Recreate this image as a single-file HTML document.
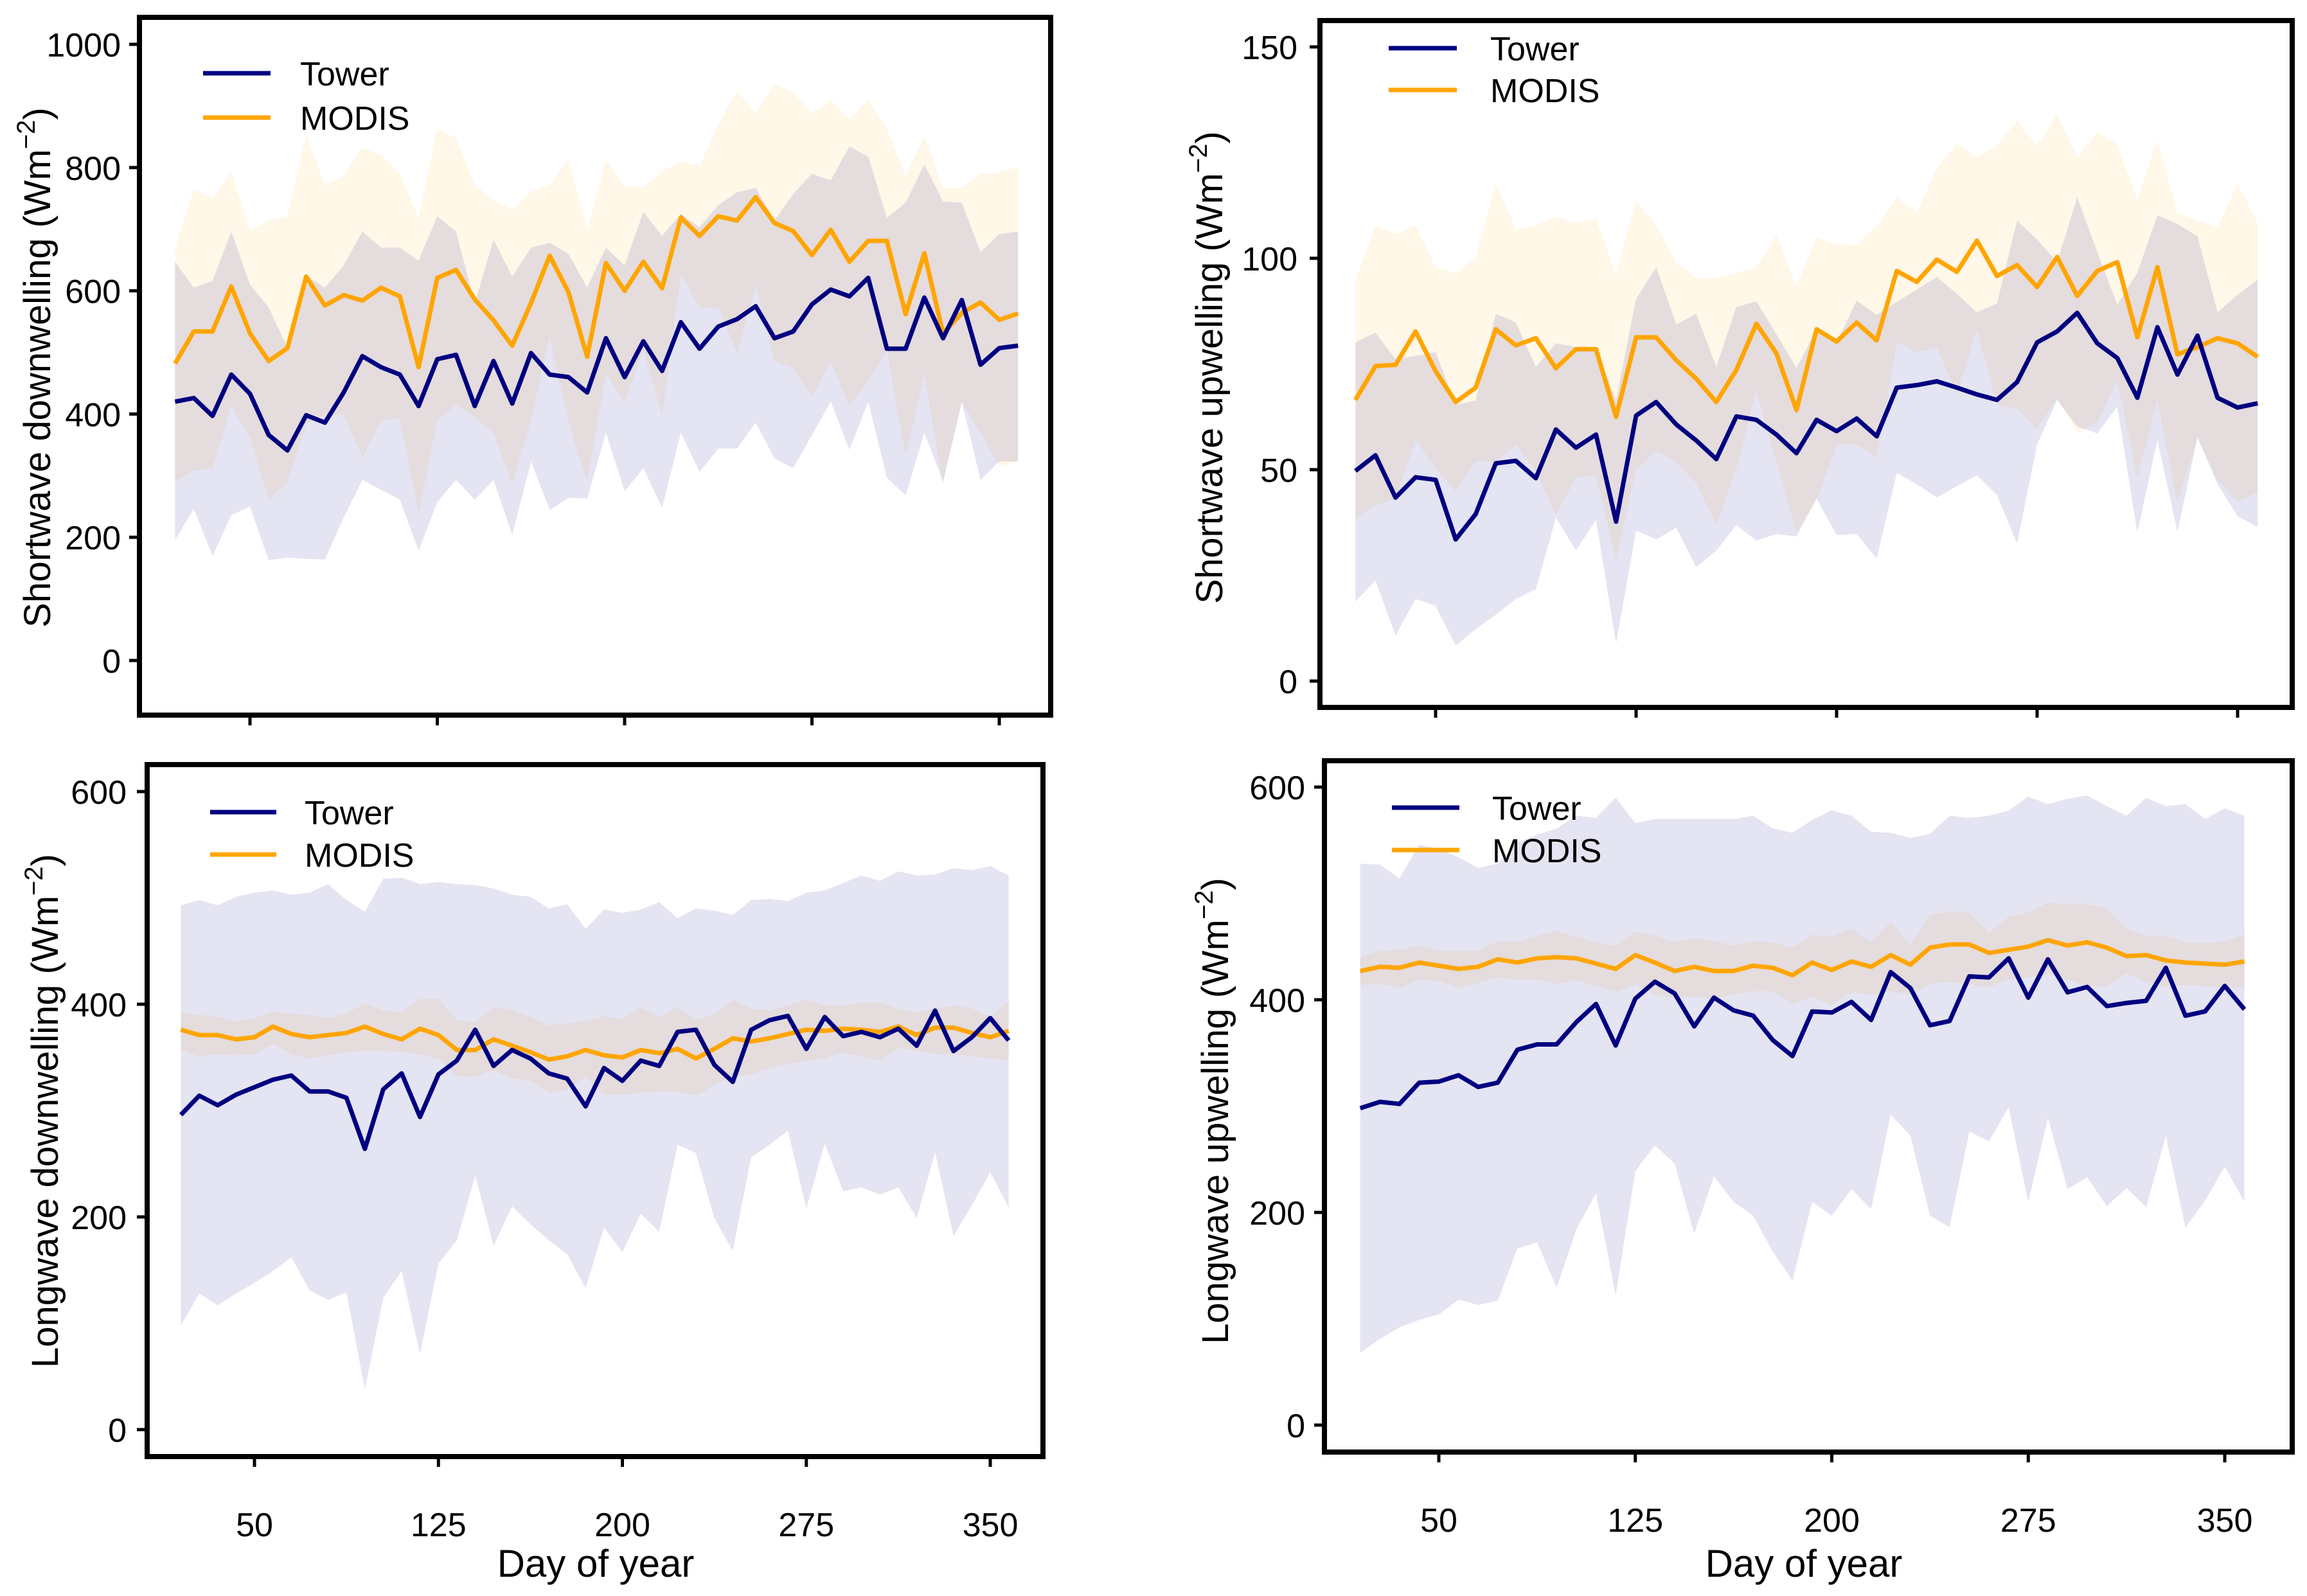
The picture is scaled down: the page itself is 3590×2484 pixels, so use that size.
<!DOCTYPE html>
<html><head><meta charset="utf-8"><style>
html,body{margin:0;padding:0;background:#fff;}
svg{display:block;font-family:"Liberation Sans",Arial,sans-serif;}
</style></head><body>
<svg id="fig" width="3590" height="2484" viewBox="0 0 3590 2484" xmlns="http://www.w3.org/2000/svg"></svg>
<script>
const days=[20,27.5,35,42.5,50,57.5,65,72.5,80,87.5,95,102.5,110,117.5,125,132.5,140,147.5,155,162.5,170,177.5,185,192.5,200,207.5,215,222.5,230,237.5,245,252.5,260,267.5,275,282.5,290,297.5,305,312.5,320,327.5,335,342.5,350,357.5];
const xTicks=[50,125,200,275,350];

const sdTower=[420,426,397,464,433,366,341,398,386,435,494,476,464,413,489,496,413,486,417,499,464,460,435,523,460,518,470,549,506,542,554,575,523,534,578,602,591,621,506,506,589,523,585,480,507,511];
const sdModis=[482,534,534,607,531,486,507,623,576,593,584,605,591,476,621,634,586,552,511,580,657,598,493,645,600,647,604,719,689,721,714,752,710,697,658,699,647,681,681,562,661,531,564,581,553,563];
const sdModisHi=[667,765,750,794,697,714,721,852,772,786,832,821,790,718,863,848,772,747,732,761,772,813,699,812,770,768,794,810,803,870,924,888,935,922,888,910,877,910,863,786,850,767,768,789,792,801];
const sdModisLo=[290,308,312,413,362,261,290,384,399,399,330,388,395,239,391,415,395,370,286,391,525,388,290,467,420,504,399,627,573,573,500,609,486,475,428,486,413,453,504,333,464,286,420,370,315,323];
const sdTowerHi=[647,605,616,696,610,573,507,625,605,641,696,670,670,649,721,696,580,683,623,670,678,660,605,670,641,728,689,725,703,739,760,767,714,757,790,779,834,818,718,743,805,745,743,663,692,696];
const sdTowerLo=[196,246,170,236,250,163,167,165,164,232,293,277,261,178,257,293,261,293,204,323,244,264,263,370,275,312,248,370,306,344,344,386,328,312,366,420,342,420,297,268,370,290,420,293,323,323];
const sdTicks=[0,200,400,600,800,1000];

const suTower=[49.7,53.4,43.4,48.2,47.6,33.5,39.5,51.5,52.1,48.0,59.5,55.2,58.3,37.7,62.8,66.0,60.7,56.9,52.5,62.6,61.8,58.3,53.9,61.8,59.1,62.1,57.9,69.4,70.0,70.9,69.4,67.8,66.5,70.7,80.1,82.7,87.1,79.9,76.4,67.0,83.7,72.5,81.7,67.0,64.7,65.7];
const suModis=[66.5,74.5,74.8,82.7,73.3,66.0,69.4,83.2,79.4,81.1,74.0,78.5,78.5,62.5,81.3,81.3,75.9,71.5,66.0,73.6,84.5,77.5,64.1,83.2,80.3,84.8,80.6,97.0,94.4,99.7,96.8,104.2,95.8,98.4,93.2,100.3,91.1,97.0,99.1,81.3,97.9,77.3,79.0,81.1,79.9,76.7];
const suModisHi=[94.7,107.8,105.7,107.8,97.7,96.6,100.0,117.8,106.8,107.8,109.9,108.3,109.4,96.3,113.6,107.8,98.9,95.3,95.3,96.6,97.9,105.5,93.2,105.0,103.3,103.1,107.5,114.4,110.7,121.4,127.0,124.0,126.7,132.6,126.4,134.2,123.8,129.8,127.0,113.8,128.0,110.7,108.9,107.3,117.6,108.3];
const suModisLo=[38.2,41.6,43.1,57.1,50.3,45,52,51.8,56.0,49.7,39.3,48.2,48.7,28.8,50.0,54.4,51.8,46.8,36.9,50.3,68.6,51.8,35.1,42.9,56.0,56.0,52.9,80.1,77.8,79.0,67.7,83.2,65.4,64.4,59.7,67.0,58.6,61.2,71.2,48.2,66.5,42.4,57.6,47.6,42.4,44.7];
const suTowerHi=[80.1,82.4,76.1,76.9,77.8,65.4,66.3,86.9,84.8,74.3,79.9,79.0,78.2,66.5,90.3,97.9,84.3,86.9,74.3,88.5,89.8,82.0,74.0,83.2,80.1,90.0,86.6,89.7,92.6,95.6,91.6,87.2,89.3,108.9,104.4,99.1,114.4,101.5,89.0,96.6,110.2,108.1,105.2,87.2,91.4,94.9];
const suTowerLo=[18.8,23.8,10.7,19.4,17.8,8.4,12.3,15.7,19.4,21.7,38.7,30.9,38.2,8.9,35.6,33.5,36.3,26.9,30.9,36.9,33.2,34.8,34.2,43.2,34.5,34.8,29.0,49.2,46.6,43.4,46.1,48.7,44.0,32.5,56.0,66.5,60.2,58.6,64.9,35.1,57.1,35.3,57.6,46.6,39.0,36.4];
const suTicks=[0,50,100,150];

const ldTower=[296,314,305,315,322,329,333,318,318,312,264,320,335,294,334,347,376,342,357,349,335,330,304,340,328,347,342,374,376,343,327,376,385,389,358,388,370,374,369,377,361,394,356,369,387,366];
const ldModis=[376,371,371,367,369,379,372,369,371,373,379,372,367,377,371,357,357,367,361,355,348,351,357,352,350,357,354,358,349,358,368,365,368,372,376,375,377,376,374,379,371,378,378,373,369,375];
const ldModisHi=[392,390,388,384,387,393,391,390,387,391,401,394,392,405,405,385,383,397,394,388,380,382,384,389,386,397,388,397,386,390,404,396,394,399,404,399,399,401,402,396,392,396,399,396,388,403];
const ldModisLo=[357,351,353,352,353,363,353,349,352,355,356,356,355,353,349,332,332,338,330,328,317,320,332,315,315,317,318,318,314,324,332,334,340,344,347,349,355,351,347,359,356,353,353,351,349,347];
const ldTowerHi=[493,498,493,501,505,507,503,505,513,498,487,518,519,513,515,513,512,509,503,501,490,494,471,489,486,489,496,481,490,488,484,498,499,497,505,507,514,521,516,525,521,522,528,526,530,521];
const ldTowerLo=[98,128,117,128,138,149,162,131,122,129,38,124,149,71,156,178,239,173,210,193,178,165,133,190,167,203,186,268,260,199,168,256,268,281,208,269,224,228,221,228,199,261,182,211,242,209];
const ldTicks=[0,200,400,600];

const luTower=[298,304,302,322,323,329,318,322,353,358,358,379,396,357,401,417,406,375,402,390,385,362,347,389,388,398,381,426,411,376,380,422,421,439,402,438,407,412,394,397,399,430,385,389,413,391];
const luModis=[427,431,430,435,432,429,431,438,435,439,440,439,434,429,442,435,427,431,427,427,432,430,423,435,428,436,431,442,433,449,452,452,444,447,450,456,451,454,449,441,442,437,435,434,433,436];
const luModisHi=[440,446,447,451,446,446,446,455,454,460,465,459,454,451,464,460,454,458,455,451,455,454,449,461,459,467,454,473,451,480,483,482,463,478,482,491,490,490,486,467,460,460,454,453,455,461];
const luModisLo=[414,415,411,419,418,411,416,421,419,419,415,419,413,407,415,405,402,403,401,405,408,408,396,403,395,407,405,408,405,415,417,414,412,419,421,424,419,412,413,425,417,412,414,413,411,412];
const luTowerHi=[528,527,514,546,542,534,524,528,548,555,561,573,571,590,566,570,570,570,570,570,573,561,557,569,578,573,558,557,552,556,573,571,573,578,591,584,589,592,582,573,590,582,584,570,580,573];
const luTowerLo=[68,81,92,99,104,118,113,117,166,172,129,184,218,122,239,263,246,180,234,210,197,163,136,210,197,222,203,292,272,197,186,276,267,299,210,289,222,233,206,223,205,272,186,211,243,210];
const luTicks=[0,200,400,600];

const NS='http://www.w3.org/2000/svg';
const svg=document.getElementById('fig');
function mk(tag,attrs,parent){const e=document.createElementNS(NS,tag);for(const k in attrs)e.setAttribute(k,attrs[k]);(parent||svg).appendChild(e);return e;}

const panels=[
 {key:'sd',box:[217,27,1635,1113],x50:389,x350:1555,y0:1028,ytop:69,ymax:1000,ticks:sdTicks,
  t:sdTower,m:sdModis,tl:sdTowerLo,th:sdTowerHi,ml:sdModisLo,mh:sdModisHi,
  label:'Shortwave downwelling',lx:58,ly:572,tickLabX:188,xlabels:false,leg:[316,421,114,183,467]},
 {key:'su',box:[2054,32,3567,1101],x50:2234,x350:3482,y0:1060,ytop:73,ymax:150,ticks:suTicks,
  t:suTower,m:suModis,tl:suTowerLo,th:suTowerHi,ml:suModisLo,mh:suModisHi,
  label:'Shortwave upwelling',lx:1882,ly:572,tickLabX:2019,xlabels:false,leg:[2161,2267,75,140,2319]},
 {key:'ld',box:[229,1190,1623,2267],x50:396,x350:1541,y0:2225,ytop:1232,ymax:600,ticks:ldTicks,
  t:ldTower,m:ldModis,tl:ldTowerLo,th:ldTowerHi,ml:ldModisLo,mh:ldModisHi,
  label:'Longwave downwelling',lx:70,ly:1729,tickLabX:197,xlabels:true,leg:[327,430,1264,1330,474],xtitle:927},
 {key:'lu',box:[2061,1184,3567,2260],x50:2239,x350:3462,y0:2218,ytop:1225,ymax:600,ticks:luTicks,
  t:luTower,m:luModis,tl:luTowerLo,th:luTowerHi,ml:luModisLo,mh:luModisHi,
  label:'Longwave upwelling',lx:1891,ly:1729,tickLabX:2031,xlabels:true,leg:[2166,2271,1257,1323,2322],xtitle:2807}
];

panels.forEach(p=>{
  const g=mk('g',{});
  
  
  const xs=d=>p.x50+(d-50)*(p.x350-p.x50)/300;
  const ys=v=>p.y0-v*(p.y0-p.ytop)/p.ymax;
  function band(lo,hi,color,op,name){
    let d='M'+days.map((dd,i)=>xs(dd).toFixed(1)+','+ys(hi[i]).toFixed(1)).join('L');
    for(let i=days.length-1;i>=0;i--)d+='L'+xs(days[i]).toFixed(1)+','+ys(lo[i]).toFixed(1);
    const e=mk('path',{d:d+'Z',fill:color,'fill-opacity':op,stroke:'none'},g);
    
    
  }
  band(p.ml,p.mh,'#FFA500',0.09,p.key+'-modis-band');
  band(p.tl,p.th,'#000080',0.105,p.key+'-tower-band');
  function line(vals,color,name){
    const d='M'+days.map((dd,i)=>xs(dd).toFixed(1)+','+ys(vals[i]).toFixed(1)).join('L');
    const e=mk('path',{d:d,fill:'none',stroke:color,'stroke-width':7,'stroke-linejoin':'round'},g);
    
    
  }
  line(p.m,'#FFA500',p.key+'-modis-line');
  line(p.t,'#000080',p.key+'-tower-line');
  const [x1,y1,x2,y2]=p.box;
  const fr=mk('rect',{x:x1,y:y1,width:x2-x1,height:y2-y1,fill:'none',stroke:'#000','stroke-width':8},g);
  
  
  p.ticks.forEach(v=>{
    const y=ys(v);
    const tk=mk('line',{x1:x1-4,x2:x1-16,y1:y,y2:y,stroke:'#000','stroke-width':5},g);
    
    
    const t=mk('text',{x:p.tickLabX,y:y+19,'text-anchor':'end','font-size':52,fill:'#000'},g);
    t.textContent=v;
    
    
  });
  xTicks.forEach(v=>{
    const x=xs(v);
    const tk=mk('line',{x1:x,x2:x,y1:y2+4,y2:y2+16,stroke:'#000','stroke-width':5},g);
    
    
    if(p.xlabels){
      const t=mk('text',{x:x,y:y2+124,'text-anchor':'middle','font-size':52,fill:'#000'},g);
      t.textContent=v;
      
      
    }
  });
  if(p.xlabels){
    const t=mk('text',{x:p.xtitle,y:2454,'text-anchor':'middle','font-size':60,fill:'#000'},g);
    t.textContent='Day of year';
    
    
  }
  const yt=mk('text',{x:0,y:0,'text-anchor':'middle','font-size':58,fill:'#000',transform:`translate(${p.lx+20},${p.ly}) rotate(-90)`},g);
  
  
  yt.appendChild(document.createTextNode(p.label+' (Wm'));
  const sup=mk('tspan',{'font-size':40,dy:-24},yt);
  sup.textContent='\u22122';
  const cl=mk('tspan',{dy:24},yt);
  cl.textContent=')';
  const [lx1,lx2,ly1,ly2,tx]=p.leg;
  [['Tower','#000080',ly1],['MODIS','#FFA500',ly2]].forEach(([nm,c,yy])=>{
    const l=mk('line',{x1:lx1,x2:lx2,y1:yy,y2:yy,stroke:c,'stroke-width':7},g);
    
    
    const t=mk('text',{x:tx,y:yy+19,'font-size':52,fill:'#000'},g);
    t.textContent=nm;
    
    
  });
});
</script>
</body></html>
